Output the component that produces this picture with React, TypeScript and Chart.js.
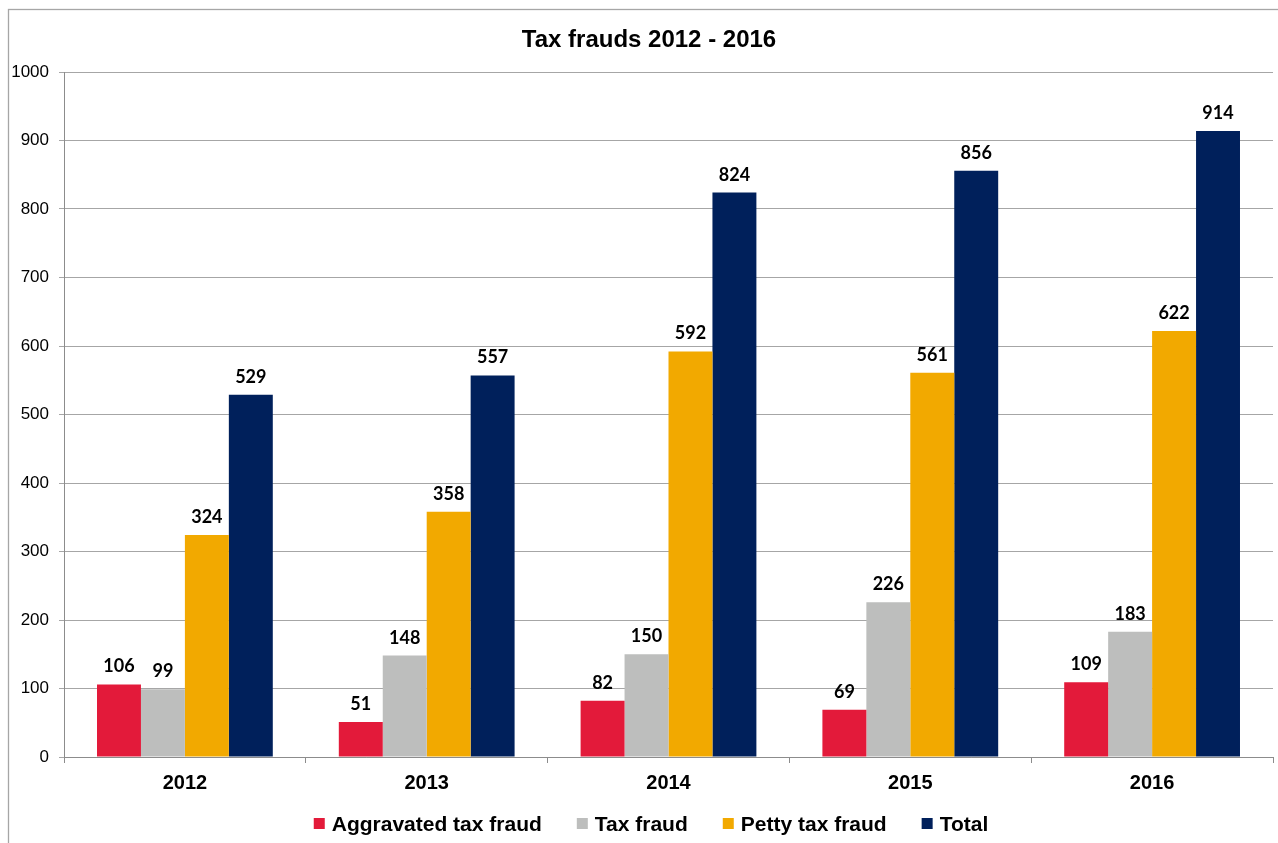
import React, { useEffect, useRef } from "react";
import { Chart, registerables } from "chart.js";

Chart.register(...registerables);

const categories = ["2012", "2013", "2014", "2015", "2016"];
const aggravated = [106, 51, 82, 69, 109];
const taxFraud = [99, 148, 150, 226, 183];
const petty = [324, 358, 592, 561, 622];
const total = [529, 557, 824, 856, 914];
const seriesNames = ["Aggravated tax fraud", "Tax fraud", "Petty tax fraud", "Total"];
const seriesColors = ["#E31A3A", "#BDBEBD", "#F2A900", "#00205B"];
const yTicks = [0, 100, 200, 300, 400, 500, 600, 700, 800, 900, 1000];
const title = "Tax frauds 2012 - 2016";

const AXIS_FONT = "Arial, 'Liberation Sans', sans-serif";

const decorPlugin = {
  id: "decor",
  afterDatasetsDraw(chart: any) {
    const ctx = chart.ctx;
    ctx.save();
    ctx.font = "bold 18px Lato, 'Open Sans', sans-serif";
    ctx.fillStyle = "#000";
    ctx.textAlign = "center";
    ctx.textBaseline = "alphabetic";
    chart.data.datasets.forEach((ds: any, i: number) => {
      const meta = chart.getDatasetMeta(i);
      meta.data.forEach((bar: any, j: number) => {
        ctx.fillText(String(ds.data[j]), bar.x, bar.y - 12);
      });
    });
    ctx.restore();
  },
  afterDraw(chart: any) {
    const ctx = chart.ctx;
    ctx.save();
    // frame
    ctx.strokeStyle = "#A6A6A6";
    ctx.lineWidth = 1.3;
    ctx.strokeRect(8.5, 9.5, 1400, 1000);
    // title
    ctx.font = "bold 24px " + AXIS_FONT;
    ctx.fillStyle = "#000";
    ctx.textAlign = "center";
    ctx.textBaseline = "alphabetic";
    ctx.fillText(title, 649, 47);
    // legend
    ctx.font = "bold 21px " + AXIS_FONT;
    const box = 11;
    const gapBox = 7;
    const gapItem = 35;
    const widths = seriesNames.map((n) => ctx.measureText(n).width);
    const totalW =
      widths.reduce((a, w) => a + box + gapBox + w, 0) + gapItem * (seriesNames.length - 1);
    let x = 651 - totalW / 2;
    ctx.textAlign = "left";
    seriesNames.forEach((n, i) => {
      ctx.fillStyle = seriesColors[i];
      ctx.fillRect(x, 818, box, box);
      ctx.fillStyle = "#000";
      ctx.fillText(n, x + box + gapBox, 831);
      x += box + gapBox + widths[i] + gapItem;
    });
    ctx.restore();
  },
};

export default function App() {
  const ref = useRef<HTMLCanvasElement>(null);
  useEffect(() => {
    if (!ref.current) return;
    const seriesData = [aggravated, taxFraud, petty, total];
    const chart = new Chart(ref.current, {
      type: "bar",
      data: {
        labels: categories,
        datasets: seriesData.map((d, i) => ({
          label: seriesNames[i],
          data: d,
          backgroundColor: seriesColors[i],
          borderWidth: 0,
          categoryPercentage: 0.727,
          barPercentage: 1,
        })),
      },
      options: {
        responsive: false,
        animation: false,
        layout: { padding: { top: 72, left: 10, right: 5, bottom: 0 } },
        plugins: {
          legend: { display: false },
          title: { display: false },
          tooltip: { enabled: false },
        },
        scales: {
          x: {
            grid: {
              drawOnChartArea: false,
              drawTicks: true,
              tickLength: 6,
              color: "#8C8C8C",
              offset: true,
            },
            border: { color: "#8C8C8C" },
            ticks: {
              color: "#000",
              padding: 8,
              font: { family: AXIS_FONT, size: 20, weight: "bold" },
            },
            afterFit: (s: any) => {
              s.height = 86;
            },
          },
          y: {
            min: 0,
            max: 1000,
            afterBuildTicks: (s: any) => {
              s.ticks = yTicks.map((v) => ({ value: v }));
            },
            grid: { color: "#A6A6A6", tickLength: 5 },
            border: { color: "#8C8C8C" },
            ticks: {
              color: "#000",
              padding: 10,
              font: { family: AXIS_FONT, size: 17 },
              callback: (v: any) => String(v),
            },
            afterFit: (s: any) => {
              s.width = 54;
            },
          },
        },
      },
      plugins: [decorPlugin],
    });
    return () => chart.destroy();
  }, []);
  return (
    <div style={{ position: "fixed", left: 0, top: 0, width: 1278, height: 843, background: "#fff" }}>
      <canvas ref={ref} width={1278} height={843} style={{ width: 1278, height: 843, display: "block" }} />
    </div>
  );
}
